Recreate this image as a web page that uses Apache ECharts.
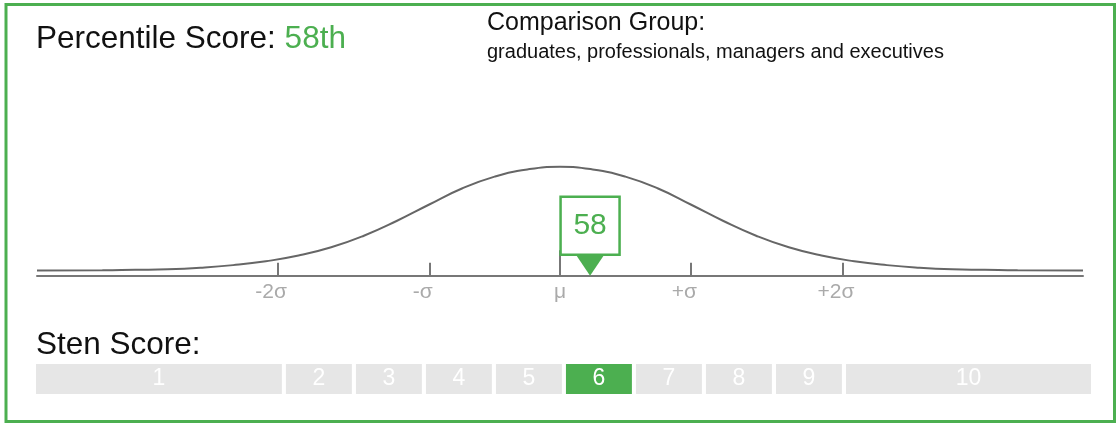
<!DOCTYPE html>
<html lang="en" style="height: 100%">
<head>
	<meta charset="utf-8">
	<title>Percentile and Sten Score</title>
</head>
<body style="height: 100%; margin: 0; background: #fff">
<div id="container" style="width: 1120px; height: 423px"></div>
<script src="https://cdn.jsdelivr.net/npm/echarts@6/dist/echarts.min.js"></script>
<script type="text/javascript">

	// values
	var percentile = 58;
	var scoreZ = 0.23;           // where the marker points, in sigma units
	var stenScore = 6;
	var groupName = 'graduates, professionals, managers and executives';

	// bell curve, x in sigma units, height of the curve above its baseline
	var curveZ = [-4, -3.5, -3.25, -3, -2.75, -2.5, -2.25, -2, -1.75, -1.5, -1.25, -1, -0.75, -0.5, -0.25, 0,
		0.25, 0.5, 0.75, 1, 1.25, 1.5, 1.75, 2, 2.25, 2.5, 2.75, 3, 3.25, 3.5, 4];
	var curveH = [0, 0.001, 0.003, 0.005, 0.011, 0.021, 0.036, 0.058, 0.090, 0.135, 0.192, 0.256, 0.318, 0.364, 0.392, 0.402,
		0.392, 0.364, 0.318, 0.256, 0.192, 0.135, 0.090, 0.058, 0.036, 0.021, 0.011, 0.005, 0.003, 0.001, 0];

	// axis ticks
	var tickZ = [-2.16, -1, 0, 1, 2.16];
	var tickLabels = ['-2σ', '-σ', 'μ', '+σ', '+2σ'];

	// sten bands
	var stenLabels = ['1', '2', '3', '4', '5', '6', '7', '8', '9', '10'];

	var green = '#4caf50';
	var font = '"Liberation Sans", Arial, sans-serif';
	var yMin = -0.02;

	// band widths: the two end bands are wider
	var stenWeight = function (i) { return i === 0 ? 3.57 : (i === 9 ? 3.5 : 1); };
	var stenGap = 0.058;
	var stenTotal = 0;
	for (var i = 0; i < stenLabels.length; i++) stenTotal += stenWeight(i);

	var curveData = [];
	for (var i = 0; i < curveZ.length; i++) curveData.push([curveZ[i], curveH[i]]);

	var dom = document.getElementById('container');
	var myChart = echarts.init(dom, null, { renderer: 'canvas' });

	var option = {
		animation: false,
		textStyle: { fontFamily: font },
		graphic: [
			{
				type: 'rect',
				shape: { x: 6, y: 4.5, width: 1108.5, height: 417 },
				style: { fill: 'none', stroke: green, lineWidth: 3 },
				z: 0
			},
			{
				type: 'text', x: 36, y: 39,
				style: {
					text: '{a|Percentile Score: }{b|' + percentile + 'th}',
					verticalAlign: 'middle',
					rich: {
						a: { fontSize: 31.5, fill: '#111', fontFamily: font },
						b: { fontSize: 31.5, fill: green, fontFamily: font }
					}
				}
			},
			{
				type: 'text', x: 487, y: 23,
				style: { text: 'Comparison Group:', fontSize: 25, fill: '#111', fontFamily: font, verticalAlign: 'middle' }
			},
			{
				type: 'text', x: 487, y: 52,
				style: { text: groupName, fontSize: 20, fill: '#111', fontFamily: font, verticalAlign: 'middle' }
			},
			{
				type: 'text', x: 36, y: 345,
				style: { text: 'Sten Score:', fontSize: 31.5, fill: '#111', fontFamily: font, verticalAlign: 'middle' }
			}
		],
		grid: [
			{ left: 37, right: 37, top: 162.2, bottom: 147.3 },
			{ left: 36, right: 29, top: 364, height: 30 }
		],
		xAxis: [
			{
				type: 'value', gridIndex: 0, min: -4, max: 4,
				splitLine: { show: false },
				axisLine: { onZero: false, lineStyle: { color: '#777', width: 2 } },
				axisTick: {
					show: true, inside: true, length: 13,
					customValues: [-2.16, -1, 1, 2.16],
					lineStyle: { color: '#777', width: 2 }
				},
				axisLabel: {
					customValues: tickZ,
					margin: 6,
					formatter: function (v) {
						var k = tickZ.indexOf(v);
						if (k < 0) return '';
						return v === 0 ? '{m|' + tickLabels[k] + '}' : '{s|' + tickLabels[k] + '}';
					},
					rich: {
						m: { fontSize: 21, color: '#aaa', fontFamily: font },
						s: { fontSize: 21, color: '#aaa', fontFamily: font, padding: [0, 13, 0, 0] }
					}
				}
			},
			{
				type: 'value', gridIndex: 1, min: 0, max: stenTotal, show: false
			}
		],
		yAxis: [
			{ type: 'value', gridIndex: 0, min: yMin, max: 0.42, show: false },
			{ type: 'value', gridIndex: 1, min: 0, max: 1, show: false }
		],
		series: [
			{
				type: 'line',
				xAxisIndex: 0, yAxisIndex: 0,
				data: curveData,
				smooth: true,
				symbol: 'none',
				lineStyle: { color: '#666', width: 2 },
				z: 2,
				markLine: {
					silent: true,
					symbol: 'none',
					label: { show: false },
					lineStyle: { color: '#777', width: 2, type: 'solid' },
					data: [[{ coord: [0, yMin] }, { coord: [0, 0.079] }]]
				}
			},
			{
				// score marker: box with the percentile and a pointer down to the axis
				type: 'custom',
				xAxisIndex: 0, yAxisIndex: 0,
				data: [[scoreZ, yMin]],
				z: 5,
				renderItem: function (params, api) {
					var p = api.coord([api.value(0), api.value(1)]);
					return {
						type: 'group',
						children: [
							{
								type: 'polygon',
								shape: { points: [[p[0] - 14.5, p[1] - 21.5], [p[0] + 14.5, p[1] - 21.5], [p[0], p[1]]] },
								style: { fill: green }
							},
							{
								type: 'rect',
								shape: { x: p[0] - 29.5, y: p[1] - 79, width: 59, height: 58 },
								style: { fill: '#fff', stroke: green, lineWidth: 2.5 }
							},
							{
								type: 'text',
								x: p[0], y: p[1] - 50,
								style: {
									text: String(percentile),
									fontSize: 30, fontFamily: font, fill: green,
									align: 'center', verticalAlign: 'middle'
								}
							}
						]
					};
				}
			},
			{
				// sten bands
				type: 'custom',
				xAxisIndex: 1, yAxisIndex: 1,
				data: stenLabels.map(function (l, i) { return [i]; }),
				renderItem: function (params, api) {
					var i = api.value(0);
					var start = 0;
					for (var k = 0; k < i; k++) start += stenWeight(k);
					var end = start + stenWeight(i) - (i < stenLabels.length - 1 ? stenGap : 0);
					var a = api.coord([start, 1]);
					var b = api.coord([end, 0]);
					var on = (i + 1) === stenScore;
					return {
						type: 'group',
						children: [
							{
								type: 'rect',
								shape: { x: a[0], y: a[1], width: b[0] - a[0], height: b[1] - a[1] },
								style: { fill: on ? green : '#e6e6e6' }
							},
							{
								type: 'text',
								x: (a[0] + b[0]) / 2, y: (a[1] + b[1]) / 2,
								style: {
									text: stenLabels[i],
									fontSize: 23, fontFamily: font, fill: '#fff',
									align: 'center', verticalAlign: 'middle'
								}
							}
						]
					};
				}
			}
		]
	};

	myChart.setOption(option);
	window.addEventListener('resize', myChart.resize);

</script>
</body>
</html>
